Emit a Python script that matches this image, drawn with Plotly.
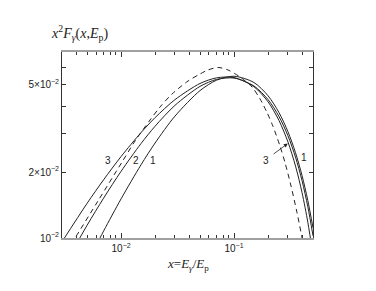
import math
import plotly.graph_objects as go

# ---- data ----
x_grid = [0.003, 0.005, 0.007, 0.01, 0.015, 0.02, 0.03, 0.05, 0.07, 0.1,
          0.15, 0.2, 0.25, 0.3, 0.35, 0.4, 0.45, 0.5]
curve1 = [0.00452, 0.00768, 0.01075, 0.01509, 0.02157, 0.02715, 0.03602, 0.04711, 0.05254, 0.05479,
          0.05129, 0.04461, 0.03739, 0.03058, 0.02452, 0.01928, 0.01483, 0.01113]
curve2 = [0.00719, 0.01142, 0.01520, 0.02016, 0.02697, 0.03239, 0.04035, 0.04924, 0.05296, 0.05374,
          0.04947, 0.04285, 0.03588, 0.02931, 0.02341, 0.01827, 0.01389, 0.01024]
curve3 = [0.00961, 0.01439, 0.01844, 0.02355, 0.03027, 0.03545, 0.04283, 0.05077, 0.05386, 0.05404,
          0.04907, 0.04187, 0.03441, 0.02746, 0.02132, 0.01611, 0.01180, 0.00835]

dash_x = [0.003, 0.00392, 0.00632, 0.0102, 0.0133, 0.01806, 0.02213, 0.02828, 0.03916, 0.05,
          0.05887, 0.07219, 0.0885, 0.113, 0.1443, 0.1699, 0.1959, 0.2213, 0.2554, 0.2828,
          0.3194, 0.361, 0.4079, 0.4517]
dash_y = [0.0080, 0.0100, 0.01491, 0.02223, 0.02773, 0.03458, 0.03965, 0.04546, 0.05209, 0.05609,
          0.05851, 0.06007, 0.05851, 0.05435, 0.04892, 0.04314, 0.03741, 0.03232, 0.02624, 0.02207,
          0.01729, 0.01305, 0.00950, 0.00707]

x_major = [0.01, 0.1]
x_major_text = ["10<sup>−2</sup>", "10<sup>−1</sup>"]
x_minor = [0.003, 0.004, 0.005, 0.006, 0.007, 0.008, 0.009,
           0.02, 0.03, 0.04, 0.05, 0.06, 0.07, 0.08, 0.09,
           0.2, 0.3, 0.4, 0.5]
y_major = [0.01, 0.02, 0.05]
y_major_text = ["10<sup>−2</sup>", "2×10<sup>−2</sup>", "5×10<sup>−2</sup>"]
y_minor = [0.03, 0.04, 0.06]

INK = "#222222"
SANS = "Liberation Sans, Arial, sans-serif"
SERIF = "Liberation Serif, Times New Roman, serif"

fig = go.Figure()
for ys in (curve1, curve2, curve3):
    fig.add_trace(go.Scatter(x=x_grid, y=ys, mode="lines",
                             line=dict(color=INK, width=1, shape="spline", smoothing=0.8),
                             hoverinfo="skip"))
fig.add_trace(go.Scatter(x=dash_x, y=dash_y, mode="lines",
                         line=dict(color=INK, width=1, dash="5px,4px", shape="spline", smoothing=0.8),
                         hoverinfo="skip"))

L = math.log10
ann = []
# curve labels on the left
for txt, lx in zip(["3", "2", "1"], [0.00767, 0.01343, 0.01920]):
    ann.append(dict(x=L(lx), y=L(0.02250), xref="x", yref="y", text=txt, showarrow=False,
                    font=dict(family=SANS, size=10, color=INK)))
# curve labels on the right
ann.append(dict(x=L(0.1915), y=L(0.02270), xref="x", yref="y", text="3", showarrow=False,
                font=dict(family=SANS, size=10, color=INK)))
ann.append(dict(x=L(0.4120), y=L(0.02320), xref="x", yref="y", text="1", showarrow=False,
                font=dict(family=SANS, size=10, color=INK)))
# arrow pointing to curve 3
ann.append(dict(x=L(0.2990), y=L(0.02700), ax=L(0.2170), ay=L(0.02390),
                xref="x", yref="y", axref="x", ayref="y", text="", showarrow=True,
                arrowhead=2, arrowsize=1.0, arrowwidth=0.8, arrowcolor=INK, standoff=0))
# y-axis title (top-left)
ann.append(dict(x=-0.052, y=1.10, xref="paper", yref="paper", xanchor="left", yanchor="middle",
                text="<i>x</i><sup>2</sup><i>F</i><sub><i>γ</i></sub>(<i>x</i>,<i>E</i><sub>p</sub>)",
                showarrow=False, font=dict(family=SERIF, size=14, color=INK)))
# x-axis title
ann.append(dict(x=0.5, y=-0.145, xref="paper", yref="paper", xanchor="center", yanchor="middle",
                text="<i>x</i>=<i>E</i><sub><i>γ</i></sub>/<i>E</i><sub>p</sub>",
                showarrow=False, font=dict(family=SERIF, size=13, color=INK)))

# page body has an 8px margin: figure sized to fit the 376x291 window
fig.update_layout(
    width=360, height=275,
    margin=dict(l=54, r=55, t=44, b=45),
    paper_bgcolor="white", plot_bgcolor="white",
    showlegend=False,
    annotations=ann,
    xaxis=dict(type="log", range=[L(0.003), L(0.5)],
               tickmode="array", tickvals=x_major, ticktext=x_major_text,
               ticks="inside", ticklen=5, tickwidth=1, tickcolor="#333333",
               showline=True, linecolor="#a0a0a0", linewidth=2, mirror="allticks",
               showgrid=False, zeroline=False,
               tickfont=dict(family=SANS, size=10, color=INK),
               minor=dict(tickmode="array", tickvals=x_minor, ticks="inside", ticklen=3,
                          tickwidth=1, tickcolor="#333333", showgrid=False)),
    yaxis=dict(type="log", range=[-2, -1.1507],
               tickmode="array", tickvals=y_major, ticktext=y_major_text,
               ticks="inside", ticklen=4, tickwidth=1, tickcolor="#333333",
               showline=True, linecolor="#333333", linewidth=1, mirror="allticks",
               showgrid=False, zeroline=False,
               tickfont=dict(family=SANS, size=10, color=INK),
               minor=dict(tickmode="array", tickvals=y_minor, ticks="inside", ticklen=4,
                          tickwidth=1, tickcolor="#333333", showgrid=False)),
)

fig.write_html("out.html")
